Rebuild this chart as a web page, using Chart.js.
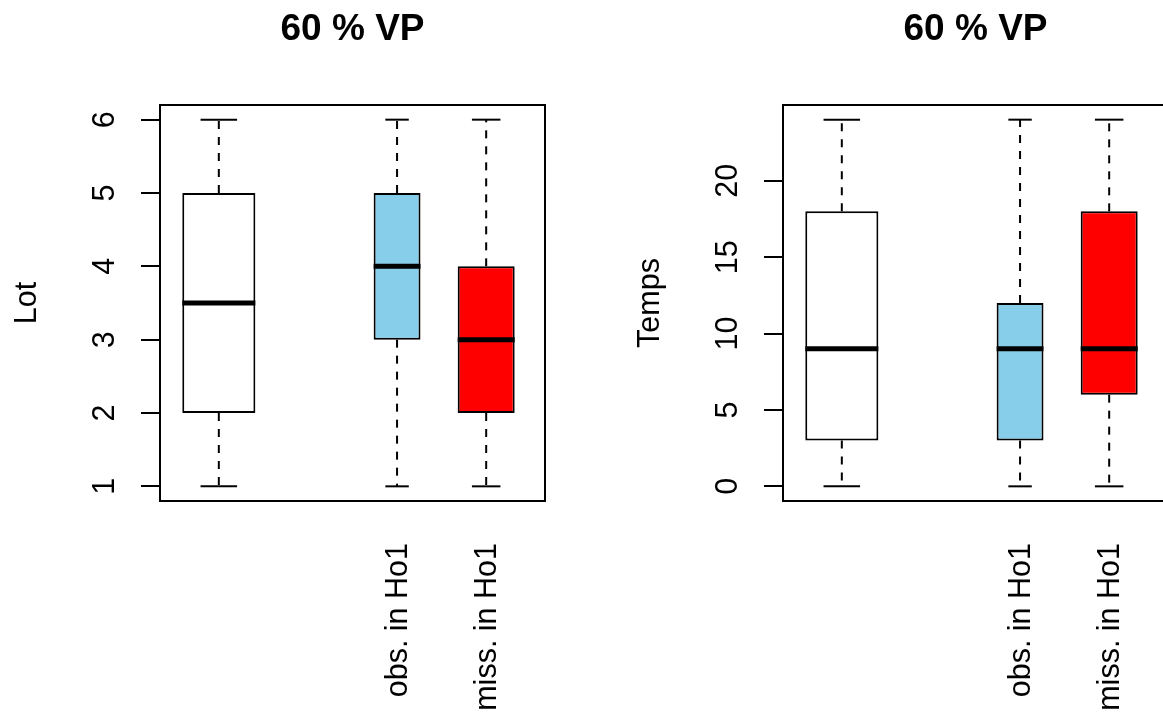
<!DOCTYPE html>
<html>
<head>
<meta charset="utf-8">
<title>60 % VP</title>
<script src="https://cdn.jsdelivr.net/npm/chart.js@4.4.1/dist/chart.umd.min.js"></script>
<style>
    html, body { margin: 0; padding: 0; background: #fff; overflow: hidden; }
    #wrap { position: relative; width: 1163px; height: 717px; overflow: hidden; background: #fff; }
    .panel { position: absolute; top: 0; width: 623px; height: 717px; }
</style>
</head>
<body>
<div id="wrap">
    <div class="panel" style="left:0"><canvas id="lotChart" width="623" height="717"></canvas></div>
    <div class="panel" style="left:623px"><canvas id="tempsChart" width="623" height="717"></canvas></div>
</div>
<script>
// groups (slot 2 is empty in the original plot)
var categories = ['', '', 'obs. in Ho1', 'miss. in Ho1'];
var groupSize = [100, 0, 40, 60];          // used for varwidth boxes
var boxColors = ['#ffffff', null, '#87ceeb', '#ff0000'];
var plotTitle = '60 % VP';

// Lot
var lotMin = [1, null, 1, 1];
var lotQ1 = [2, null, 3, 2];
var lotMedian = [3.5, null, 4, 3];
var lotQ3 = [5, null, 5, 4];
var lotMax = [6, null, 6, 6];
var lotTicks = [1, 2, 3, 4, 5, 6];

// Temps
var tempsMin = [0, null, 0, 0];
var tempsQ1 = [3, null, 3, 6];
var tempsMedian = [9, null, 9, 9];
var tempsQ3 = [18, null, 12, 18];
var tempsMax = [24, null, 24, 24];
var tempsTicks = [0, 5, 10, 15, 20];

var FONT = "'Liberation Sans', Arial, sans-serif";

function makeBoxplot(canvasId, yLabel, lo, q1, med, q3, hi, yTicks) {
    var all = lo.concat(hi).filter(function (v) { return v !== null; });
    var yMin = Math.min.apply(null, all);
    var yMax = Math.max.apply(null, all);
    var yPad = (yMax - yMin) * 0.04;
    var xPad = categories.length * 0.04;
    var maxN = Math.max.apply(null, groupSize);

    // one floating bar (Q1..Q3) per group
    var datasets = [];
    for (var i = 0; i < categories.length; ++i) {
        if (q1[i] === null) continue;
        datasets.push({
            label: categories[i],
            group: i,
            data: [{x: i + 1, y: [q1[i], q3[i]]}],
            backgroundColor: boxColors[i],
            borderColor: '#000',
            borderWidth: 2,
            borderSkipped: false,
            grouped: false,
            barPercentage: 1,
            categoryPercentage: 0.8 * Math.sqrt(groupSize[i] / maxN) + 0.02
        });
    }

    function seg(ctx, x1, y1, x2, y2) {
        ctx.beginPath();
        ctx.moveTo(x1, y1);
        ctx.lineTo(x2, y2);
        ctx.stroke();
    }

    var boxplotPlugin = {
        id: 'boxplot_' + canvasId,
        afterDatasetsDraw: function (chart) {
            var ctx = chart.ctx;
            var y = chart.scales.y;
            chart.data.datasets.forEach(function (ds, k) {
                var bar = chart.getDatasetMeta(k).data[0];
                var g = ds.group;
                var half = bar.width / 2;
                ctx.save();
                ctx.strokeStyle = '#000';
                ctx.lineCap = 'butt';
                // whiskers
                ctx.lineWidth = 2;
                ctx.setLineDash([8, 8]);
                seg(ctx, bar.x, y.getPixelForValue(q3[g]), bar.x, y.getPixelForValue(hi[g]));
                seg(ctx, bar.x, y.getPixelForValue(q1[g]), bar.x, y.getPixelForValue(lo[g]));
                ctx.setLineDash([]);
                // staples
                seg(ctx, bar.x - half / 2, y.getPixelForValue(hi[g]), bar.x + half / 2, y.getPixelForValue(hi[g]));
                seg(ctx, bar.x - half / 2, y.getPixelForValue(lo[g]), bar.x + half / 2, y.getPixelForValue(lo[g]));
                // median
                ctx.lineWidth = 5;
                seg(ctx, bar.x - half, y.getPixelForValue(med[g]), bar.x + half, y.getPixelForValue(med[g]));
                ctx.restore();
            });
        },
        afterDraw: function (chart) {
            var ctx = chart.ctx;
            var a = chart.chartArea;
            var x = chart.scales.x;
            var y = chart.scales.y;
            ctx.save();
            // frame
            ctx.strokeStyle = '#000';
            ctx.lineWidth = 2;
            ctx.strokeRect(a.left, a.top, a.right - a.left, a.bottom - a.top);

            ctx.fillStyle = '#000';
            // title
            ctx.font = 'bold 37px ' + FONT;
            ctx.textAlign = 'center';
            ctx.textBaseline = 'alphabetic';
            ctx.fillText(plotTitle, (a.left + a.right) / 2, 40);

            ctx.font = '30.5px ' + FONT;
            // y tick labels, rotated like R
            yTicks.forEach(function (v) {
                ctx.save();
                ctx.translate(a.left - 46, y.getPixelForValue(v));
                ctx.rotate(-Math.PI / 2);
                ctx.textAlign = 'center';
                ctx.fillText(String(v), 0, 0);
                ctx.restore();
            });
            // y axis title
            ctx.save();
            ctx.translate(a.left - 124, (a.top + a.bottom) / 2);
            ctx.rotate(-Math.PI / 2);
            ctx.textAlign = 'center';
            ctx.fillText(yLabel, 0, 0);
            ctx.restore();
            // group labels (las = 2)
            categories.forEach(function (c, i) {
                if (!c) return;
                ctx.save();
                ctx.translate(x.getPixelForValue(i + 1) + 10, a.bottom + 42);
                ctx.rotate(-Math.PI / 2);
                ctx.textAlign = 'right';
                ctx.fillText(c, 0, 0);
                ctx.restore();
            });
            ctx.restore();
        }
    };

    return new Chart(document.getElementById(canvasId), {
        type: 'bar',
        data: {datasets: datasets},
        options: {
            responsive: false,
            animation: false,
            devicePixelRatio: 1,
            layout: {padding: {left: 141, right: 78, top: 105, bottom: 216}},
            plugins: {
                legend: {display: false},
                tooltip: {enabled: false}
            },
            scales: {
                x: {
                    type: 'linear',
                    offset: false,
                    min: 0.5 - xPad,
                    max: categories.length + 0.5 + xPad,
                    afterBuildTicks: function (s) {
                        s.ticks = categories.map(function (c, i) { return {value: i + 1}; });
                    },
                    ticks: {display: false},
                    grid: {display: false, offset: false, drawTicks: false, tickLength: 0},
                    border: {display: false}
                },
                y: {
                    type: 'linear',
                    min: yMin - yPad,
                    max: yMax + yPad,
                    afterBuildTicks: function (s) {
                        s.ticks = yTicks.map(function (v) { return {value: v}; });
                    },
                    ticks: {display: false},
                    grid: {drawOnChartArea: false, drawTicks: true, tickLength: 19, color: '#000', lineWidth: 2},
                    border: {display: false}
                }
            }
        },
        plugins: [boxplotPlugin]
    });
}

makeBoxplot('lotChart', 'Lot', lotMin, lotQ1, lotMedian, lotQ3, lotMax, lotTicks);
makeBoxplot('tempsChart', 'Temps', tempsMin, tempsQ1, tempsMedian, tempsQ3, tempsMax, tempsTicks);
</script>
</body>
</html>
